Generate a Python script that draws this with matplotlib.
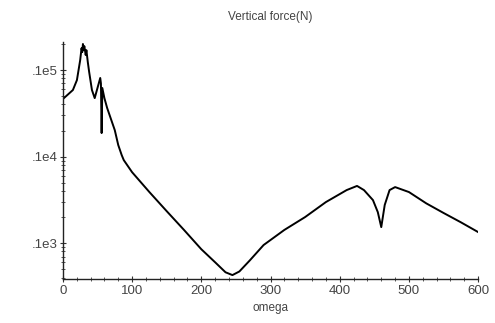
import numpy as np
import matplotlib.pyplot as plt
from matplotlib.ticker import FixedLocator, LogLocator, NullFormatter, MultipleLocator

# omega vs vertical force
omega = [0, 14.5, 20.3, 25, 27, 28, 29, 30, 31, 33, 34, 36, 38, 42, 46, 50, 54,
         55, 56, 57, 60, 64, 70, 75, 80, 85, 88, 100, 125, 150, 175, 200, 220,
         235, 245, 255, 270, 290, 320, 350, 380, 410, 425, 435, 448, 455, 460,
         465, 472, 480, 500, 525, 550, 575, 600]
force = [4620, 5880, 7650, 13000, 17900, 16100, 20000, 17000, 18900, 14900,
         17000, 12400, 9480, 5880, 4740, 6200, 8100, 7000, 1870, 6200, 4740,
         3640, 2640, 2020, 1360, 1040, 910, 660, 389, 234, 142, 85, 60, 46,
         42.7, 47, 63, 95, 142, 200, 298, 410, 458, 410, 314, 228, 153, 276,
         410, 444, 389, 288, 223, 174, 134]

ytick_vals = [1e2, 1e3, 1e4]
ytick_labels = ['.1e3', '.1e4', '.1e5']
xtick_vals = [0, 100, 200, 300, 400, 500, 600]

plt.rcParams['font.family'] = ['Liberation Sans Narrow', 'Liberation Sans', 'DejaVu Sans']

fig = plt.figure(figsize=(4.95, 3.23), dpi=100)
ax = fig.add_axes([0.127, 0.136, 0.839, 0.734])

ax.plot(omega, force, color='black', lw=1.4)
ax.set_yscale('log')
ax.set_xlim(0, 600)
ax.set_ylim(38.4, 21100)

for s in ['top', 'right']:
    ax.spines[s].set_visible(False)
for s in ['left', 'bottom']:
    ax.spines[s].set_linewidth(1.0)
    ax.spines[s].set_color('#222222')

ax.yaxis.set_major_locator(FixedLocator(ytick_vals))
ax.set_yticklabels(ytick_labels)
ax.yaxis.set_minor_locator(LogLocator(base=10, subs=np.arange(2, 10)))
ax.yaxis.set_minor_formatter(NullFormatter())
ax.set_xticks(xtick_vals)
ax.xaxis.set_minor_locator(MultipleLocator(20))

ax.tick_params(which='major', length=4, width=0.8, direction='inout',
               labelsize=9.5, labelcolor='#444444', color='#333333', pad=2)
ax.tick_params(which='minor', length=2.5, width=0.7, direction='inout', color='#555555')

ax.set_title('Vertical force(N)', fontsize=8.5, color='#444444', pad=16)
ax.set_xlabel('omega', fontsize=8.5, color='#444444', labelpad=4)

fig.savefig('out.png', dpi=100)
